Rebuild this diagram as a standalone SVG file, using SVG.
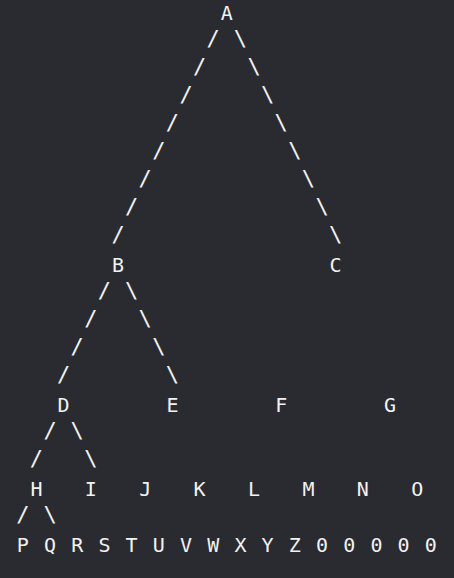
<svg xmlns="http://www.w3.org/2000/svg" width="454" height="578" viewBox="0 0 454 578">
<style>
text{font-family:"DejaVu Sans Mono","Liberation Mono",monospace;font-size:20px;fill:#f2f2f2;text-anchor:middle}
#connectors text{font-size:22px}
</style>
<rect width="454" height="578" fill="#2a2b30"/>
<g id="connectors" transform="translate(0,-2)">
<g id="A-B"><text x="213.2" y="48">/</text><text x="199.6" y="76">/</text><text x="186" y="104">/</text><text x="172.4" y="132">/</text><text x="158.8" y="160">/</text><text x="145.2" y="188">/</text><text x="131.6" y="216">/</text><text x="118" y="244">/</text></g>
<g id="A-C"><text x="240.4" y="48">\</text><text x="254" y="76">\</text><text x="267.6" y="104">\</text><text x="281.2" y="132">\</text><text x="294.8" y="160">\</text><text x="308.4" y="188">\</text><text x="322" y="216">\</text><text x="335.6" y="244">\</text></g>
<g id="B-D"><text x="104.4" y="300">/</text><text x="90.8" y="328">/</text><text x="77.2" y="356">/</text><text x="63.6" y="384">/</text></g>
<g id="B-E"><text x="131.6" y="300">\</text><text x="145.2" y="328">\</text><text x="158.8" y="356">\</text><text x="172.4" y="384">\</text></g>
<g id="D-H"><text x="50" y="440">/</text><text x="36.4" y="468">/</text></g>
<g id="D-I"><text x="77.2" y="440">\</text><text x="90.8" y="468">\</text></g>
<g id="H-P"><text x="22.8" y="524">/</text></g>
<g id="H-Q"><text x="50" y="524">\</text></g>
</g>
<g id="A"><text x="226.8" y="20">A</text></g>
<g id="B"><text x="118" y="272">B</text></g>
<g id="C"><text x="335.6" y="272">C</text></g>
<g id="D"><text x="63.6" y="412">D</text></g>
<g id="E"><text x="172.4" y="412">E</text></g>
<g id="F"><text x="281.2" y="412">F</text></g>
<g id="G"><text x="390" y="412">G</text></g>
<g id="H"><text x="36.4" y="496">H</text></g>
<g id="I"><text x="90.8" y="496">I</text></g>
<g id="J"><text x="145.2" y="496">J</text></g>
<g id="K"><text x="199.6" y="496">K</text></g>
<g id="L"><text x="254" y="496">L</text></g>
<g id="M"><text x="308.4" y="496">M</text></g>
<g id="N"><text x="362.8" y="496">N</text></g>
<g id="O"><text x="417.2" y="496">O</text></g>
<g id="P"><text x="22.8" y="552">P</text></g>
<g id="Q"><text x="50" y="552">Q</text></g>
<g id="R"><text x="77.2" y="552">R</text></g>
<g id="S"><text x="104.4" y="552">S</text></g>
<g id="T"><text x="131.6" y="552">T</text></g>
<g id="U"><text x="158.8" y="552">U</text></g>
<g id="V"><text x="186" y="552">V</text></g>
<g id="W"><text x="213.2" y="552">W</text></g>
<g id="X"><text x="240.4" y="552">X</text></g>
<g id="Y"><text x="267.6" y="552">Y</text></g>
<g id="Z"><text x="294.8" y="552">Z</text></g>
<g id="zero1"><text x="322" y="552">0</text></g>
<g id="zero2"><text x="349.2" y="552">0</text></g>
<g id="zero3"><text x="376.4" y="552">0</text></g>
<g id="zero4"><text x="403.6" y="552">0</text></g>
<g id="zero5"><text x="430.8" y="552">0</text></g>
</svg>
